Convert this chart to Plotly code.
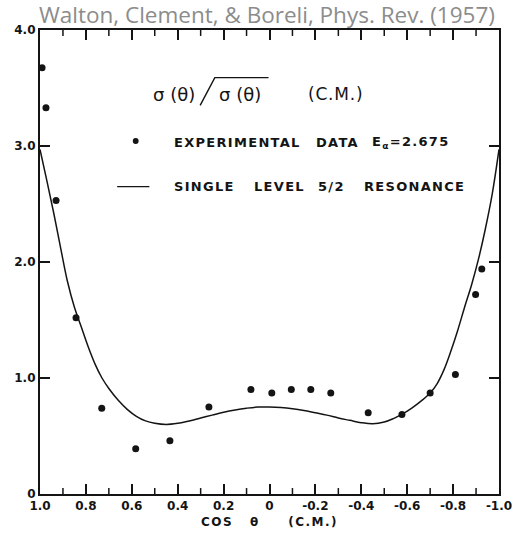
import plotly.graph_objects as go

# Experimental data (cos theta CM, normalized cross section)
exp_cos = [0.991, 0.974, 0.930, 0.843, 0.731, 0.583, 0.434, 0.264, 0.081, -0.01,
           -0.095, -0.18, -0.267, -0.43, -0.577, -0.70, -0.81, -0.898, -0.925]
exp_val = [3.675, 3.33, 2.53, 1.52, 0.74, 0.39, 0.46, 0.75, 0.90, 0.87,
           0.90, 0.90, 0.87, 0.70, 0.685, 0.87, 1.03, 1.72, 1.94]

# Single level 5/2 resonance curve
fit_cos = [1.0, 0.97, 0.94, 0.91, 0.88, 0.85, 0.82, 0.79, 0.76, 0.73, 0.70, 0.66,
           0.62, 0.58, 0.54, 0.50, 0.45, 0.40, 0.35, 0.30, 0.25, 0.20, 0.15, 0.10,
           0.05, 0.0, -0.05, -0.10, -0.15, -0.20, -0.25, -0.30, -0.35, -0.40, -0.45,
           -0.50, -0.54, -0.58, -0.62, -0.66, -0.70, -0.73, -0.76, -0.79, -0.82,
           -0.85, -0.88, -0.91, -0.94, -0.97, -1.0]
fit_val = [2.97, 2.70, 2.42, 2.12, 1.83, 1.61, 1.44, 1.27, 1.12, 1.00, 0.91, 0.81,
           0.73, 0.67, 0.63, 0.61, 0.60, 0.61, 0.63, 0.655, 0.68, 0.705, 0.725, 0.74,
           0.75, 0.75, 0.745, 0.735, 0.72, 0.70, 0.68, 0.655, 0.635, 0.615, 0.605,
           0.62, 0.65, 0.69, 0.74, 0.80, 0.87, 0.95, 1.07, 1.23, 1.41,
           1.61, 1.80, 2.02, 2.28, 2.58, 2.97]

x_tickvals = [1.0, 0.8, 0.6, 0.4, 0.2, 0.0, -0.2, -0.4, -0.6, -0.8, -1.0]
x_ticktext = ["1.0", "0.8", "0.6", "0.4", "0.2", "0", "-0.2", "-0.4", "-0.6", "-0.8", "-1.0"]
x_minorvals = [0.9, 0.7, 0.5, 0.3, 0.1, -0.1, -0.3, -0.5, -0.7, -0.9]
y_tickvals = [0, 1, 2, 3, 4]
y_ticktext = ["0", "1.0", "2.0", "3.0", "4.0"]

ink = "#141414"
fig = go.Figure()
fig.add_trace(go.Scatter(x=fit_cos, y=fit_val, mode="lines",
                         line=dict(color=ink, width=1.5, shape="spline", smoothing=1.0),
                         showlegend=False, hoverinfo="skip"))
fig.add_trace(go.Scatter(x=exp_cos, y=exp_val, mode="markers",
                         marker=dict(color=ink, size=7),
                         showlegend=False))

tickfont = dict(family="DejaVu Sans", size=12, color=ink, weight="bold")
fig.update_xaxes(range=[1.0, -1.0], tickmode="array", tickvals=x_tickvals, ticktext=x_ticktext,
                 ticks="inside", ticklen=10, tickwidth=2, tickcolor=ink,
                 showline=True, linewidth=2, linecolor=ink, mirror="ticks",
                 showgrid=False, zeroline=False, tickfont=tickfont,
                 title=dict(text='<span style="letter-spacing:1.5px">COS   θ     (C.M.)</span>',
                            font=dict(family="DejaVu Sans", size=12, color=ink, weight="bold"), standoff=5))
fig.update_yaxes(range=[0, 4.0], tickmode="array", tickvals=y_tickvals, ticktext=y_ticktext,
                 ticks="inside", ticklen=10, tickwidth=2, tickcolor=ink,
                 showline=True, linewidth=2.2, linecolor=ink, mirror="ticks",
                 showgrid=False, zeroline=False, tickfont=tickfont)

PLOT_W, PLOT_H = 470.0, 468.0

def px(x):
    return (x - 40) / PLOT_W

def py(y):
    return (498 - y) / PLOT_H

def lab(text, x, y, font, anchor="left"):
    return dict(text=text, xref="paper", yref="paper", x=px(x), y=py(y),
                xanchor=anchor, yanchor="middle", showarrow=False, font=font)

lg = dict(family="DejaVu Sans", size=13, color=ink, weight="bold")
hdr = dict(family="DejaVu Sans", size=18, color=ink)
sp = '<span style="letter-spacing:1.3px">%s</span>'
anns = [
    lab("Walton, Clement, &amp; Boreli, Phys. Rev. (1957)", 272, 14,
        dict(family="Open Sans", size=22.5, color="#8c8c8c"), anchor="center"),
    lab("σ (θ)", 154, 95, hdr),
    lab("σ (θ)", 221, 95, hdr),
    lab('<span style="letter-spacing:0.8px">(C.M.)</span>', 312, 95,
        dict(family="DejaVu Sans", size=17, color=ink)),
    lab(sp % "EXPERIMENTAL", 175, 143, lg),
    lab(sp % "DATA", 321, 143, lg),
    lab(sp % "E<sub>α</sub>=2.675", 378, 143, lg),
    lab(sp % "SINGLE", 175, 188, lg),
    lab(sp % "LEVEL", 257, 188, lg),
    lab(sp % "5/2", 323, 188, lg),
    lab(sp % "RESONANCE", 370, 188, lg),
]
shapes = [
    dict(type="path", xref="paper", yref="paper",
         path="M %f,%f L %f,%f L %f,%f" % (px(204), py(106), px(219), py(78), px(274), py(78)),
         line=dict(color=ink, width=1.4)),
    dict(type="circle", xref="paper", yref="paper", x0=px(135), x1=px(141), y0=py(139), y1=py(145),
         fillcolor=ink, line=dict(color=ink, width=0)),
    dict(type="line", xref="paper", yref="paper", x0=px(119), x1=px(152), y0=py(188), y1=py(188),
         line=dict(color=ink, width=1.4)),
]

# minor inside tick marks (bottom and top), placed from the minor tick array
MIN = 6.0
for v in x_minorvals:
    for y0, y1 in [(0, MIN / PLOT_H), (1, 1 - MIN / PLOT_H)]:
        shapes.append(dict(type="line", xref="x", yref="paper", x0=v, x1=v, y0=y0, y1=y1,
                           line=dict(color=ink, width=1.5)))

fig.update_layout(width=524, height=539, margin=dict(l=40, r=14, t=30, b=41),
                  paper_bgcolor="white", plot_bgcolor="white",
                  annotations=anns, shapes=shapes, showlegend=False)
fig.write_html("out.html")
